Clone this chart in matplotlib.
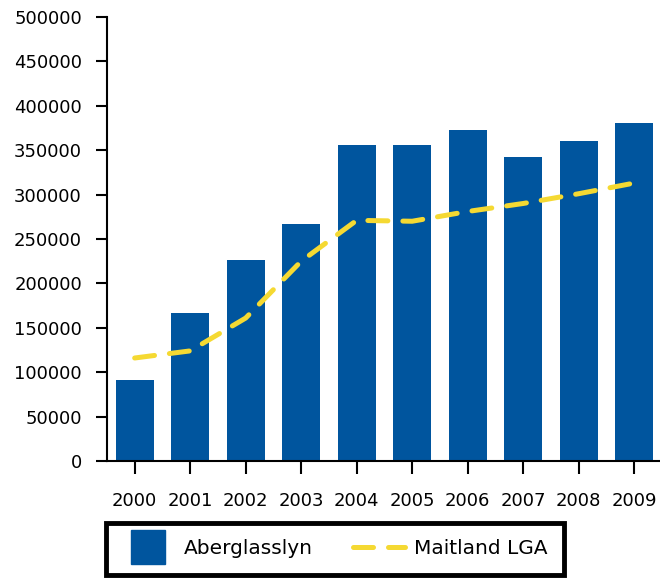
import numpy as np
import matplotlib.pyplot as plt
from matplotlib.lines import Line2D

plt.rcParams['font.family'] = ['DejaVu Sans']

years = ['2000', '2001', '2002', '2003', '2004', '2005', '2006', '2007', '2008', '2009']
aberglasslyn = [91000, 167000, 226000, 267000, 356000, 356000, 373000, 342000, 360000, 381000]
maitland = [116000, 124000, 161000, 225000, 271000, 270000, 281000, 290000, 301000, 313000]

bar_color = '#00559E'
line_color = '#F5D932'

fig = plt.figure(figsize=(6.6, 5.78), dpi=100)
ax = fig.add_axes([0.162, 0.2024, 0.841, 0.7682])

x = np.arange(len(years))
ax.bar(x, aberglasslyn, width=0.69, color=bar_color, zorder=2)
ax.plot(x, maitland, color=line_color, lw=3.6, dashes=(4, 3),
        dash_capstyle='round', solid_capstyle='round', zorder=3)

ax.set_xlim(-0.5, 9.5)
ax.set_ylim(0, 500000)
ax.set_yticks(np.arange(0, 500001, 50000))
ax.set_xticks(x)
ax.set_xticklabels(years)

for side in ['top', 'right']:
    ax.spines[side].set_visible(False)
for side in ['left', 'bottom']:
    ax.spines[side].set_linewidth(1.5)
ax.tick_params(axis='y', length=8, width=1.5, pad=10, labelsize=13)
ax.tick_params(axis='x', length=9, width=1.5, pad=13, labelsize=13)

handles = [
    Line2D([], [], marker='s', linestyle='none', markersize=25, color=bar_color),
    Line2D([], [], color=line_color, lw=3.6, dashes=(4, 3), dash_capstyle='round'),
]
leg = fig.legend(handles, ['Aberglasslyn', 'Maitland LGA'], loc='center',
                 bbox_to_anchor=(335 / 660, 1 - 549 / 578), ncol=2,
                 fontsize=14.5, frameon=True, fancybox=False, framealpha=1,
                 handlelength=2.6, handletextpad=0.45, columnspacing=2.0,
                 borderpad=0.8, borderaxespad=0)
leg.get_frame().set_edgecolor('black')
leg.get_frame().set_linewidth(3.5)

fig.savefig('out.png', dpi=100)
